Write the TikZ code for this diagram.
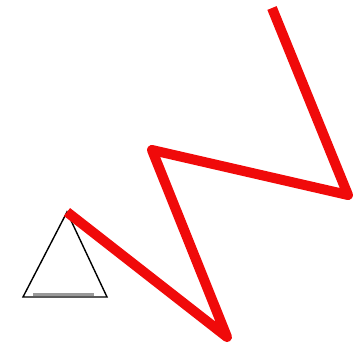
\documentclass[tikz,border=0pt]{standalone}
\usepackage{tikz}
\definecolor{zigred}{HTML}{F00A0A}
\definecolor{basegray}{HTML}{999999}
\tikzset{
    zigzag/.style={draw=zigred, line width=5pt, line join=round},
    tri/.style={draw=black, line width=0.7pt, line join=miter},
    basebar/.style={draw=basegray, line width=1.5pt}
}
\begin{document}
\begin{tikzpicture}[x=0.5pt, y=-0.5pt]
    \useasboundingbox (0,0) rectangle (359,354);
    % triangle
    \coordinate (apex) at (67,212);
    \coordinate (bl) at (23,297);
    \coordinate (br) at (107,297);
    \draw [tri] (apex) -- (bl) -- (br) -- cycle;
    \draw [basebar] (33,294) -- (94,294);

    % red zigzag
    \coordinate (z1) at (227,337);
    \coordinate (z2) at (152,150);
    \coordinate (z3) at (348,195);
    \coordinate (z4) at (272,8);
    \draw [zigzag] (apex) -- (z1) -- (z2) -- (z3) -- (z4);
\end{tikzpicture}
\end{document}
